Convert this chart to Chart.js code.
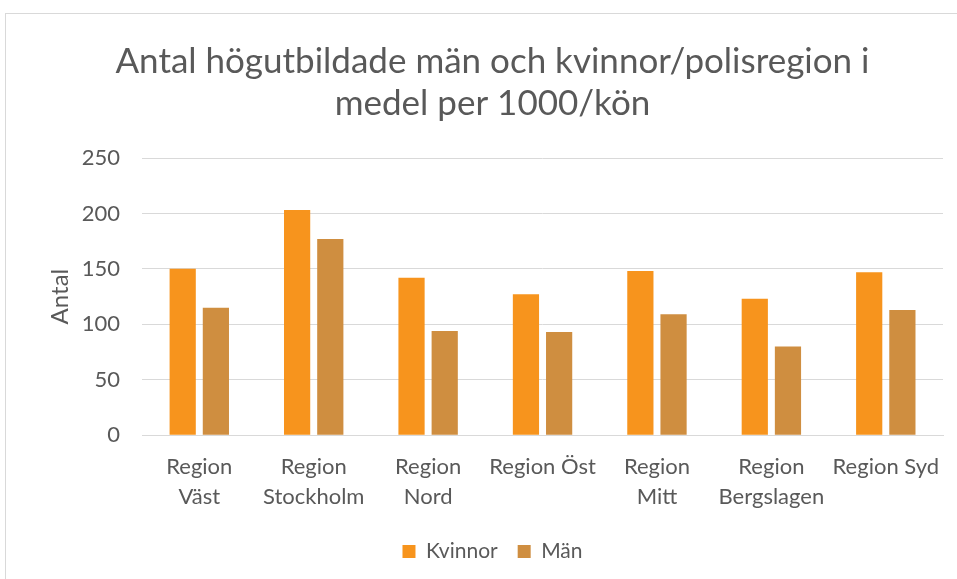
<!DOCTYPE html>
<html>
<head>
<meta charset="utf-8">
<script src="https://cdn.jsdelivr.net/npm/chart.js@4"></script>
<style>
html,body{margin:0;padding:0;background:#fff;width:957px;height:579px;overflow:hidden;}
#frame{position:absolute;left:5px;top:13px;width:960px;height:580px;border:1px solid #d9d9d9;box-sizing:border-box;}
#wrap{position:absolute;left:0;top:0;width:957px;height:579px;}
</style>
</head>
<body>
<div id="frame"></div>
<div id="wrap"><canvas id="c" width="957" height="579"></canvas></div>
<script>
const categories = [["Region","Väst"],["Region","Stockholm"],["Region","Nord"],"Region Öst",["Region","Mitt"],["Region","Bergslagen"],"Region Syd"];
const kvinnor = [150, 203, 142, 127, 148, 123, 147];
const man = [115, 177, 94, 93, 109, 80, 113];
const seriesNames = ["Kvinnor", "Män"];
const titleLines = ["Antal högutbildade män och kvinnor/polisregion i", "medel per 1000/kön"];

const FONT = "Lato, 'Open Sans', sans-serif";
new Chart(document.getElementById('c'), {
  type: 'bar',
  data: {
    labels: categories,
    datasets: [
      {label: seriesNames[0], data: kvinnor, backgroundColor: '#f7941d', borderWidth: 0},
      {label: seriesNames[1], data: man, backgroundColor: '#cf8e40', borderWidth: 0}
    ]
  },
  options: {
    responsive: false,
    animation: false,
    devicePixelRatio: 1,
    datasets: {bar: {categoryPercentage: 0.58, barPercentage: 0.79}},
    layout: {padding: {left: 42, right: 14, top: 41, bottom: 7}},
    plugins: {
      title: {display: true, text: titleLines, color: '#595959', font: {family: FONT, size: 35, weight: 'normal', lineHeight: 1.2}, padding: {top: 0, bottom: 33}},
      legend: {position: 'bottom', labels: {color: '#595959', font: {family: FONT, size: 21}, boxWidth: 13, boxHeight: 13, padding: 20}},
      tooltip: {enabled: false}
    },
    scales: {
      x: {
        grid: {display: false},
        border: {display: true, color: '#d9d9d9'},
        ticks: {color: '#595959', font: {family: FONT, size: 22, lineHeight: 1.36}, maxRotation: 0, autoSkip: false, padding: 9}
      },
      y: {
        min: 0, max: 250,
        grid: {color: '#d9d9d9', drawTicks: false},
        border: {display: false},
        ticks: {stepSize: 50, color: '#595959', font: {family: FONT, size: 22}, padding: 22},
        title: {display: true, text: 'Antal', color: '#595959', font: {family: FONT, size: 24}, padding: {top: 4, bottom: -15}}
      }
    }
  }
});
</script>
</body>
</html>
